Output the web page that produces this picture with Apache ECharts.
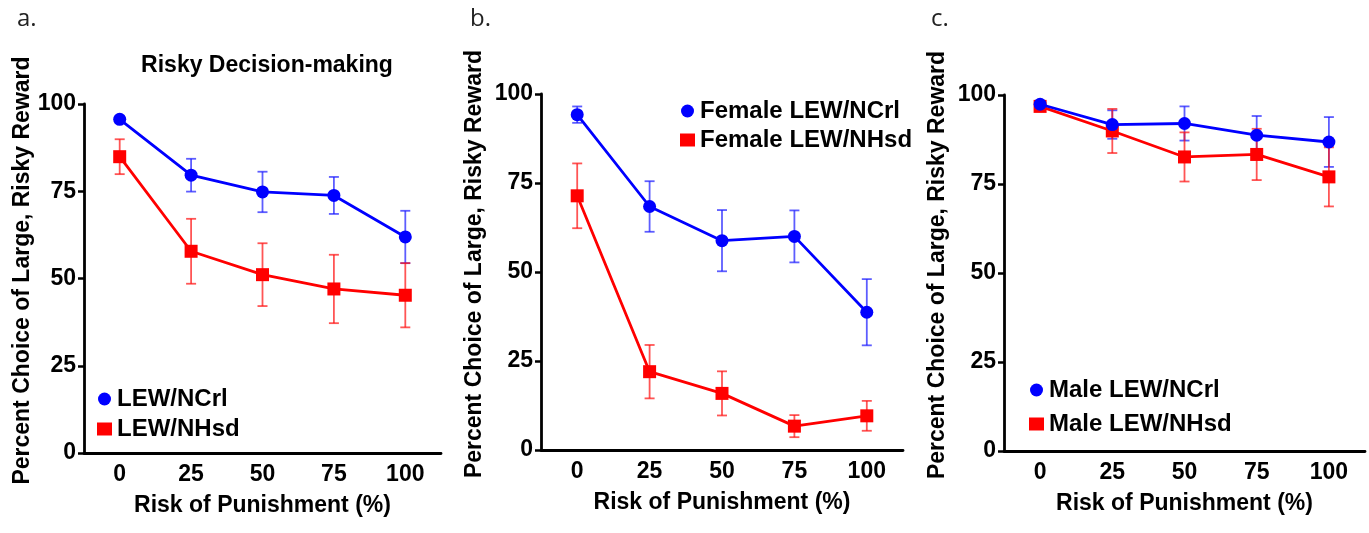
<!DOCTYPE html>
<html>
<head>
<meta charset="utf-8">
<script src="https://cdn.jsdelivr.net/npm/echarts@6/dist/echarts.min.js"></script>
<style>
  html, body { margin: 0; padding: 0; background: #fff; }
  #chart { width: 1369px; height: 533px; }
</style>
</head>
<body>
<div id="chart"></div>
<script>
const categories = ["0", "25", "50", "75", "100"];
const yTicks = [0, 25, 50, 75, 100];

// panel a: all rats
const aNcrlMean = [95.6, 79.6, 74.8, 73.8, 61.9];
const aNcrlErr = [1.0, 4.7, 5.8, 5.3, 7.5];
const aNhsdMean = [84.9, 57.8, 51.1, 47.0, 45.2];
const aNhsdErr = [5.0, 9.3, 9.0, 9.8, 9.2];

// panel b: females
const bNcrlMean = [94.2, 68.4, 58.8, 60.0, 38.7];
const bNcrlErr = [2.3, 7.1, 8.6, 7.3, 9.3];
const bNhsdMean = [71.4, 22.0, 15.9, 6.7, 9.6];
const bNhsdErr = [9.1, 7.5, 6.2, 3.1, 4.2];

// panel c: males
const cNcrlMean = [97.4, 91.7, 92.0, 88.7, 86.8];
const cNcrlErr = [1.0, 4.0, 4.8, 5.4, 7.0];
const cNhsdMean = [96.8, 89.9, 82.6, 83.3, 77.0];
const cNhsdErr = [0.6, 6.2, 6.9, 7.2, 8.3];

const FONT = 'Arial, "Liberation Sans", sans-serif';
const BLUE = "#0000ff";
const RED = "#ff0000";
const BLUE_ERR = "rgba(30, 30, 255, 0.72)";
const RED_ERR = "rgba(255, 20, 20, 0.72)";

const panels = [
  { label: "a.", labelX: 12, left: 84, top: 104, width: 357, height: 349, yGap: 50,
    ncrl: "LEW/NCrl", nhsd: "LEW/NHsd",
    ncrlMean: aNcrlMean, ncrlErr: aNcrlErr, nhsdMean: aNhsdMean, nhsdErr: aNhsdErr,
    legend: { left: 97, top: 387, itemGap: 6 } },
  { label: "b.", labelX: 465, left: 541, top: 94, width: 362, height: 356, yGap: 55,
    ncrl: "Female LEW/NCrl", nhsd: "Female LEW/NHsd",
    ncrlMean: bNcrlMean, ncrlErr: bNcrlErr, nhsdMean: bNhsdMean, nhsdErr: bNhsdErr,
    legend: { left: 680, top: 99, itemGap: 5 } },
  { label: "c.", labelX: 926, left: 1004, top: 95, width: 361, height: 356, yGap: 55,
    ncrl: "Male LEW/NCrl", nhsd: "Male LEW/NHsd",
    ncrlMean: cNcrlMean, ncrlErr: cNcrlErr, nhsdMean: cNhsdMean, nhsdErr: cNhsdErr,
    legend: { left: 1029, top: 378, itemGap: 10 } },
];

function errorData(means, errs) {
  return means.map((m, i) => [i, m - errs[i], m + errs[i]]);
}

function renderErrorBar(color) {
  return function (params, api) {
    const low = api.coord([api.value(0), api.value(1)]);
    const high = api.coord([api.value(0), api.value(2)]);
    const cap = 5;
    const style = { stroke: color, lineWidth: 1.8 };
    return {
      type: "group",
      children: [
        { type: "line", shape: { x1: low[0], y1: low[1], x2: high[0], y2: high[1] }, style },
        { type: "line", shape: { x1: low[0] - cap, y1: low[1], x2: low[0] + cap, y2: low[1] }, style },
        { type: "line", shape: { x1: high[0] - cap, y1: high[1], x2: high[0] + cap, y2: high[1] }, style },
      ],
    };
  };
}

const axisText = { color: "#000", fontFamily: FONT, fontWeight: "bold", fontSize: 23 };
const legendText = { color: "#000", fontFamily: FONT, fontWeight: "bold", fontSize: 24 };

const grid = [];
const xAxis = [];
const yAxis = [];
const series = [];
const legend = [];
const title = [];

panels.forEach((p, i) => {
  grid.push({ left: p.left, top: p.top, width: p.width, height: p.height, containLabel: false });

  xAxis.push({
    gridIndex: i,
    type: "category",
    data: categories,
    boundaryGap: true,
    name: "Risk of Punishment (%)",
    nameLocation: "middle",
    nameGap: 41,
    nameTextStyle: axisText,
    axisLine: { lineStyle: { color: "#000", width: 2.8 } },
    axisTick: { alignWithLabel: true, length: 6, lineStyle: { color: "#000", width: 2.5 } },
    axisLabel: Object.assign({ margin: 10 }, axisText),
    splitLine: { show: false },
  });

  yAxis.push({
    gridIndex: i,
    type: "value",
    min: yTicks[0],
    max: yTicks[yTicks.length - 1],
    interval: 25,
    name: "Percent Choice of Large, Risky Reward",
    nameLocation: "middle",
    nameGap: p.yGap,
    nameTextStyle: Object.assign({ padding: [0, 0, 0, 16] }, axisText),
    axisLine: { show: true, lineStyle: { color: "#000", width: 2.8 } },
    axisTick: { show: true, length: 6, lineStyle: { color: "#000", width: 2.5 } },
    axisLabel: Object.assign({ margin: 8 }, axisText),
    splitLine: { show: false },
  });

  series.push({
    type: "custom",
    name: p.ncrl + " err",
    xAxisIndex: i,
    yAxisIndex: i,
    data: errorData(p.ncrlMean, p.ncrlErr),
    renderItem: renderErrorBar(BLUE_ERR),
    encode: { x: 0, y: [1, 2] },
    z: 1,
    silent: true,
  });
  series.push({
    type: "custom",
    name: p.nhsd + " err",
    xAxisIndex: i,
    yAxisIndex: i,
    data: errorData(p.nhsdMean, p.nhsdErr),
    renderItem: renderErrorBar(RED_ERR),
    encode: { x: 0, y: [1, 2] },
    z: 1,
    silent: true,
  });
  series.push({
    type: "line",
    name: p.nhsd,
    xAxisIndex: i,
    yAxisIndex: i,
    data: p.nhsdMean,
    symbol: "rect",
    symbolSize: 13,
    lineStyle: { color: RED, width: 2.8 },
    itemStyle: { color: RED },
    z: 3,
  });
  series.push({
    type: "line",
    name: p.ncrl,
    xAxisIndex: i,
    yAxisIndex: i,
    data: p.ncrlMean,
    symbol: "circle",
    symbolSize: 13,
    lineStyle: { color: BLUE, width: 2.8 },
    itemStyle: { color: BLUE },
    z: 4,
  });

  legend.push({
    orient: "vertical",
    left: p.legend.left,
    top: p.legend.top,
    padding: 0,
    itemGap: p.legend.itemGap,
    itemWidth: 15,
    itemHeight: 13,
    textStyle: legendText,
    selectedMode: false,
    data: [
      { name: p.ncrl, icon: "circle", itemStyle: { color: BLUE } },
      { name: p.nhsd, icon: "rect", itemStyle: { color: RED } },
    ],
  });

  title.push({
    text: p.label,
    left: p.labelX,
    top: 2,
    textStyle: { color: "#222", fontFamily: '"Open Sans", sans-serif', fontWeight: "normal", fontSize: 24 },
  });
});

title.push({
  text: "Risky Decision-making",
  left: 262,
  top: 49,
  textAlign: "center",
  textStyle: axisText,
});

const chart = echarts.init(document.getElementById("chart"), null, { renderer: "canvas" });
chart.setOption({
  animation: false,
  backgroundColor: "#fff",
  title,
  grid,
  xAxis,
  yAxis,
  legend,
  series,
});
</script>
</body>
</html>
